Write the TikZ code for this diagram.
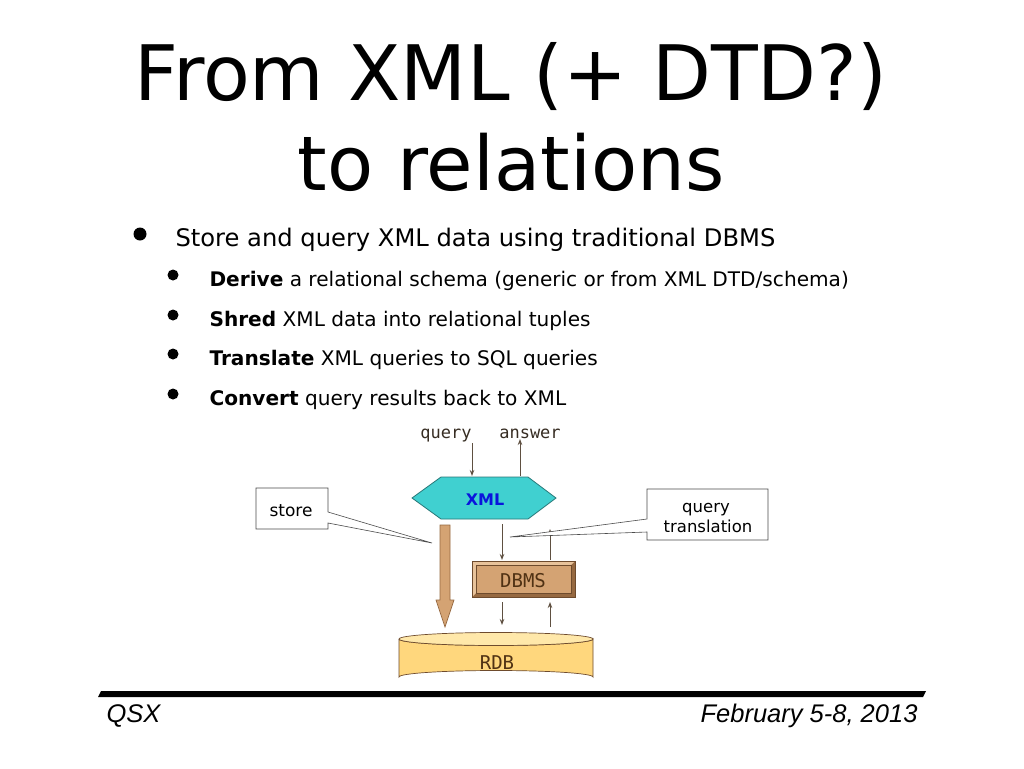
\documentclass[tikz,border=0pt]{standalone}
\usepackage{fontspec}
\setmainfont{DejaVu Sans}
\newfontfamily\footfont{Liberation Sans}
\newfontfamily\codefont{DejaVu Sans Mono}
\usetikzlibrary{arrows.meta}
\definecolor{arrowc}{RGB}{95,80,65}
\definecolor{xmlfill}{RGB}{64,208,208}
\definecolor{xmlline}{RGB}{40,120,120}
\definecolor{xmltext}{RGB}{10,20,220}
\definecolor{tan}{RGB}{212,163,115}
\definecolor{tanlight}{RGB}{232,195,155}
\definecolor{tandark}{RGB}{150,105,65}
\definecolor{brownline}{RGB}{110,75,45}
\definecolor{browntext}{RGB}{80,50,20}
\definecolor{rdbfill}{RGB}{255,215,125}
\definecolor{rdbtop}{RGB}{255,232,170}
\definecolor{codetext}{RGB}{55,45,35}
\tikzset{
  thinarrow/.style={draw=arrowc, line width=1pt, -{Stealth[length=6pt,width=4.5pt]}},
  callout/.style={draw=black!70, line width=0.6pt, fill=white},
  dbtext/.style={anchor=base, text=browntext, font=\codefont\fontsize{19}{19}\selectfont},
  bul/.style={fill=black},
  maintext/.style={anchor=base west, font=\fontsize{24.2}{24.2}\selectfont},
  subtext/.style={anchor=base west, font=\fontsize{20.1}{20.1}\selectfont},
  calltext/.style={anchor=base, font=\fontsize{16.5}{16.5}\selectfont},
  codelabel/.style={anchor=base, text=codetext, font=\codefont\fontsize{17}{17}\selectfont},
  foot/.style={font=\footfont\itshape\fontsize{25.5}{25.5}\selectfont},
}
\begin{document}
\begin{tikzpicture}[x=1pt,y=-1pt]
\useasboundingbox (0,0) rectangle (1024,768);
\fill[white] (0,0) rectangle (1024,768);

% title
\node[anchor=base, font=\fontsize{76.5}{76.5}\selectfont] (t1) at (511,100) {From XML (+ DTD?)};
\node[anchor=base, font=\fontsize{75.5}{75.5}\selectfont] (t2) at (511,190) {to relations};

% bullets
\fill[bul] (140,234) circle (6.5);
\node[maintext] (b0) at (172,246) {Store and query XML data using traditional DBMS};
\fill[bul] (173,275) circle (5.5);
\node[subtext] (b1) at (206,286) {\textbf{Derive} a relational schema (generic or from XML DTD/schema)};
\fill[bul] (173,315) circle (5.5);
\node[subtext] (b2) at (206,326) {\textbf{Shred} XML data into relational tuples};
\fill[bul] (173,354) circle (5.5);
\node[subtext] (b3) at (206,365) {\textbf{Translate} XML queries to SQL queries};
\fill[bul] (173,394) circle (5.5);
\node[subtext] (b4) at (206,405) {\textbf{Convert} query results back to XML};

% diagram: query / answer
\node[codelabel] (q) at (446,438) {query};
\node[codelabel] (a) at (530,438) {answer};

% XML hexagon
\draw[fill=xmlfill, draw=xmlline, line width=0.8pt]
  (412,498) -- (441,477) -- (528,477) -- (556,498) -- (528,519) -- (441,519) -- cycle;
\node[anchor=base, font=\bfseries\fontsize{16}{16}\selectfont, text=xmltext] (xml) at (485,505) {XML};
\coordinate (qs) at (472,443);
\coordinate (qe) at (472,476);
\coordinate (as) at (520,476);
\coordinate (ae) at (520,439);
\draw[thinarrow] (qs) -- (qe);
\draw[thinarrow] (as) -- (ae);

% DBMS beveled box
\fill[tandark] (472,561) rectangle (575,597);
\fill[tanlight] (472,561) -- (575,561) -- (571,565) -- (476,565) -- (476,593) -- (472,597) -- cycle;
\fill[tan] (476,565) rectangle (571,593);
\draw[brownline, line width=0.6pt] (472,561) rectangle (575,597);
\draw[brownline, line width=0.4pt] (476,565) rectangle (571,593);
\node[dbtext] (dbms) at (523,587) {DBMS};

\coordinate (d1s) at (502,524);
\coordinate (d1e) at (502,560);
\coordinate (u1s) at (550,560);
\coordinate (u1e) at (550,529);
\draw[thinarrow] (d1s) -- (d1e);
\draw[thinarrow] (u1s) -- (u1e);
\coordinate (d2s) at (502,602);
\coordinate (d2e) at (502,625);
\coordinate (u2s) at (550,627);
\coordinate (u2e) at (550,602);
\draw[thinarrow] (d2s) -- (d2e);
\draw[thinarrow] (u2s) -- (u2e);

% RDB cylinder
\draw[fill=rdbfill, draw=brownline, line width=0.7pt]
  (399,639) -- (399,677) arc[start angle=180, end angle=360, x radius=97, y radius=6.5]
  -- (593,639) arc[start angle=0, end angle=180, x radius=97, y radius=6.5];
\draw[fill=rdbtop, draw=brownline, line width=0.7pt] (496,639) ellipse[x radius=97, y radius=6.5];
\node[dbtext] (rdb) at (497,669) {RDB};

% store big arrow
\draw[fill=tan, draw=tandark, line width=0.7pt]
  (440,525) -- (450,525) -- (450,600) -- (454,600) -- (445,627) -- (436,600) -- (440,600) -- cycle;

% store callout
\coordinate (stip) at (432,543);
\draw[callout] (328,512) -- (328,488) -- (256,488) -- (256,529) -- (328,529) -- (328,523) -- (stip) -- cycle;
\node[calltext, font=\fontsize{17}{17}\selectfont] (store) at (291,516) {store};

% query translation callout
\coordinate (qtip) at (510,537);
\draw[callout] (647,519) -- (647,489) -- (768,489) -- (768,540) -- (647,540) -- (647,532) -- (qtip) -- cycle;
\node[calltext] (qt1) at (706,512) {query};
\node[calltext] (qt2) at (708,532) {translation};

% footer
\fill[black] (101,691) -- (926,691) -- (923,697) -- (98,697) -- cycle;
\node[foot, anchor=base west] (qsx) at (103,722) {QSX};
\node[foot, anchor=base east] (date) at (921,722) {February 5-8, 2013};
\end{tikzpicture}
\end{document}
